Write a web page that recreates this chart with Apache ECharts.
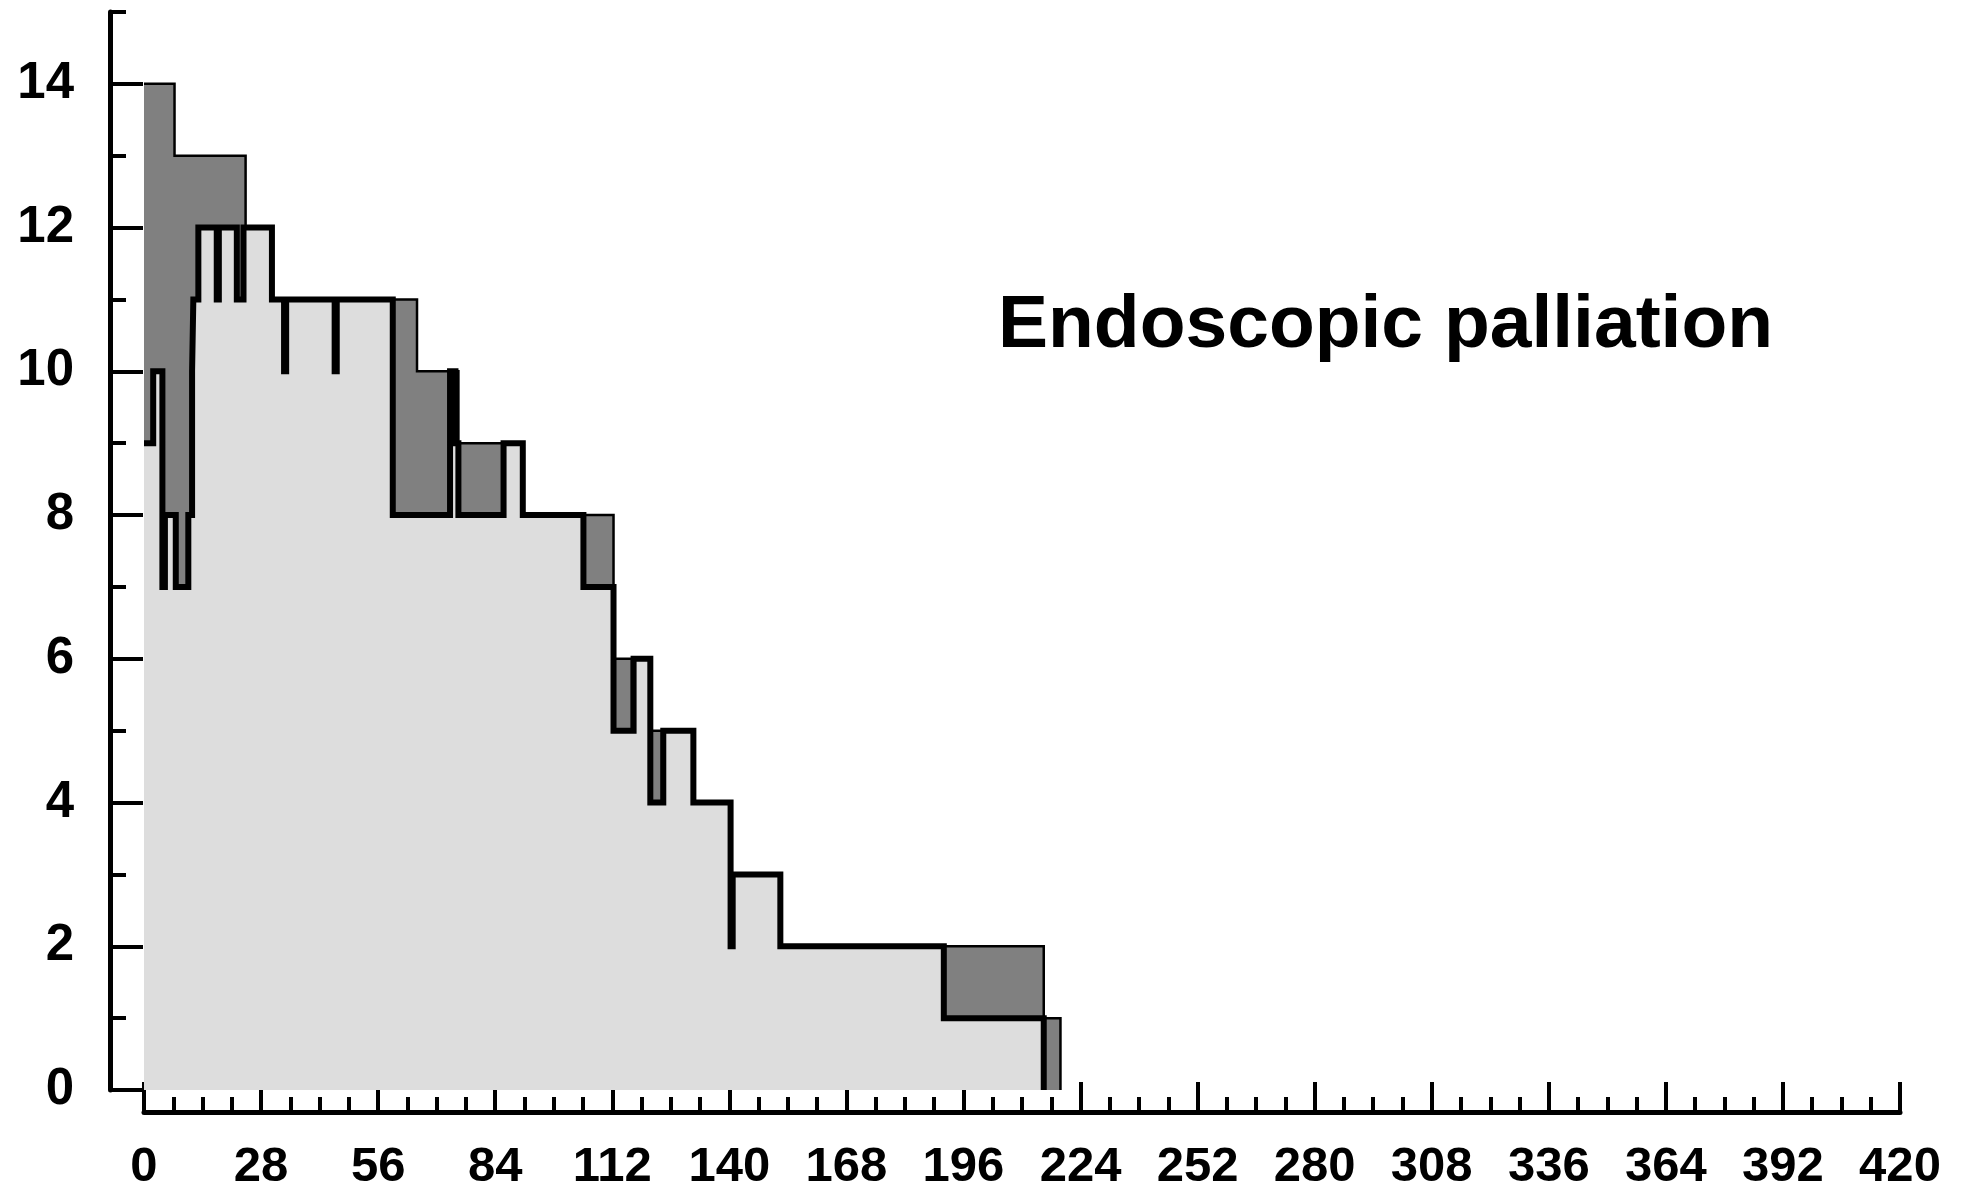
<!DOCTYPE html>
<html>
<head>
<meta charset="utf-8">
<script src="https://cdn.jsdelivr.net/npm/echarts@6/dist/echarts.min.js"></script>
<style>
html,body{margin:0;padding:0;background:#fff;}
#chart{width:1964px;height:1193px;}
</style>
</head>
<body>
<div id="chart"></div>
<script>
// Lower (light) step curve: time where the value changes, and the new value
const lowerX = [0, 2.2, 4.4, 5.0, 7.6, 10.6, 11.5, 11.8, 13.0, 17.4, 17.9, 22.2, 23.8, 30.6, 33.5, 34.0, 45.6, 46.1, 59.5, 73.2, 74.5, 75.2, 86.0, 90.6, 105.1, 112.3, 117.1, 121.1, 124.2, 131.4, 140.3, 140.8, 152.2, 191.3, 215.2];
const lowerY = [9, 10, 7, 8, 7, 8, 10, 11, 12, 11, 12, 11, 12, 11, 10, 11, 10, 11, 8, 10, 9, 8, 9, 8, 7, 5, 6, 4, 5, 4, 2, 3, 2, 1, 0];
// Upper (dark) step curve
const upperX = [0, 7.3, 24.3, 65.3, 75.2, 86.0, 112.3, 116.7, 123.9, 140.5, 152.2, 215.2, 219.2];
const upperY = [14, 13, 11, 10, 9, 8, 6, 5, 4, 3, 2, 1, 0];
// Axis tick values
const yMajorTicks = [0, 2, 4, 6, 8, 10, 12, 14];
const yMinorTicks = [1, 3, 5, 7, 9, 11, 13, 15];
const xTickLabels = [0, 28, 56, 84, 112, 140, 168, 196, 224, 252, 280, 308, 336, 364, 392, 420];
const titleText = 'Endoscopic palliation';

const chart = echarts.init(document.getElementById('chart'), null, {renderer: 'canvas'});
const FONT = '"Liberation Sans", Arial, sans-serif';

const option = {
  animation: false,
  backgroundColor: '#ffffff',
  title: {
    text: titleText,
    left: 998,
    top: 289,
    padding: 0,
    textStyle: {fontFamily: FONT, fontSize: 75, fontWeight: 'bold', color: '#000'}
  },
  grid: {left: 144, right: 64, top: 12, bottom: 103, containLabel: false},
  xAxis: {
    type: 'value',
    min: xTickLabels[0],
    max: xTickLabels[xTickLabels.length - 1],
    interval: xTickLabels[1] - xTickLabels[0],
    offset: 22,
    axisLine: {show: true, onZero: false, lineStyle: {color: '#000', width: 5}},
    axisTick: {show: true, inside: true, length: 30, lineStyle: {color: '#000', width: 4}},
    minorTick: {show: true, splitNumber: 4, length: 15, lineStyle: {color: '#000', width: 4}},
    splitLine: {show: false},
    minorSplitLine: {show: false},
    axisLabel: {
      show: true, margin: 31, color: '#000', fontFamily: FONT, fontSize: 49, fontWeight: 'bold',
      customValues: xTickLabels
    }
  },
  yAxis: [
    {
      type: 'value', min: 0, max: 15, position: 'left', offset: 34,
      axisLine: {show: true, onZero: false, lineStyle: {color: '#000', width: 5}},
      axisTick: {show: true, inside: true, length: 33, lineStyle: {color: '#000', width: 4}, customValues: yMajorTicks},
      axisLabel: {show: true, margin: 36, color: '#000', fontFamily: FONT, fontSize: 51, fontWeight: 'bold', customValues: yMajorTicks},
      splitLine: {show: false}
    },
    {
      type: 'value', min: 0, max: 15, position: 'left', offset: 34,
      axisLine: {show: false, onZero: false},
      axisTick: {show: true, inside: true, length: 16, lineStyle: {color: '#000', width: 4}, customValues: yMinorTicks},
      axisLabel: {show: false},
      splitLine: {show: false}
    }
  ],
  series: [
    {
      name: 'upper', type: 'line', step: 'end', symbol: 'none', yAxisIndex: 0, z: 2,
      data: upperX.map((x, i) => [x, upperY[i]]),
      lineStyle: {color: '#000', width: 2.5, join: 'miter', cap: 'butt'},
      areaStyle: {color: '#808080', opacity: 1}
    },
    {
      name: 'lower', type: 'line', step: 'end', symbol: 'none', yAxisIndex: 0, z: 3,
      data: lowerX.map((x, i) => [x, lowerY[i]]),
      lineStyle: {color: '#000', width: 6, join: 'miter', cap: 'butt'},
      areaStyle: {color: '#dddddd', opacity: 1}
    }
  ]
};
chart.setOption(option);
</script>
</body>
</html>
